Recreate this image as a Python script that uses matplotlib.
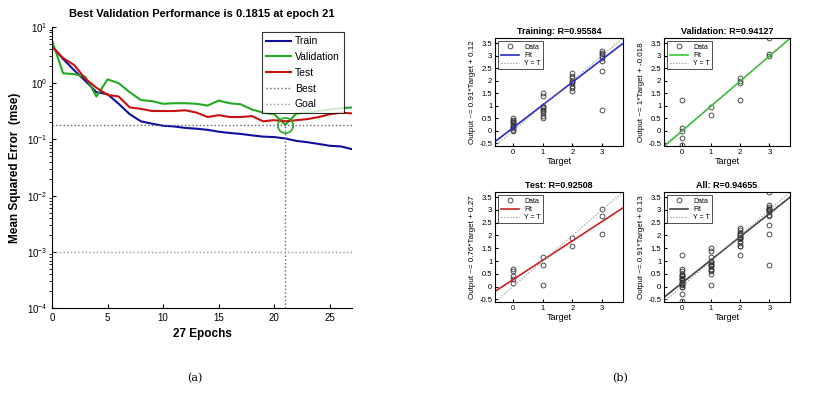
import numpy as np
import matplotlib
matplotlib.use("Agg")
import matplotlib.pyplot as plt

plt.rcParams['font.family'] = ['Liberation Sans', 'DejaVu Sans']

# performance curves (mse per epoch)
epochs = list(range(28))
train_mse = [4.6, 2.7, 1.7, 1.1, 0.69, 0.64, 0.43, 0.28, 0.21, 0.19, 0.175, 0.17, 0.16, 0.155,
             0.148, 0.137, 0.13, 0.125, 0.118, 0.112, 0.11, 0.104, 0.094, 0.089, 0.083, 0.077,
             0.075, 0.067]
val_mse = [5.8, 1.5, 1.45, 1.3, 0.58, 1.17, 1.0, 0.69, 0.5, 0.48, 0.43, 0.44, 0.44, 0.43,
           0.4, 0.49, 0.44, 0.42, 0.34, 0.30, 0.28, 0.1815, 0.29, 0.3, 0.32, 0.34, 0.36, 0.37]
test_mse = [4.4, 2.8, 2.1, 1.2, 0.83, 0.62, 0.58, 0.37, 0.35, 0.32, 0.32, 0.32, 0.33, 0.3,
            0.25, 0.27, 0.25, 0.25, 0.26, 0.21, 0.22, 0.21, 0.22, 0.23, 0.25, 0.28, 0.3, 0.29]
best_epoch = 21
best_perf = 0.1815
goal = 1e-3

# regression panels: targets / outputs
train_t = [0]*11 + [1]*10 + [2]*9 + [3]*8
train_y = [0.0, 0.05, 0.1, 0.15, 0.2, 0.25, 0.3, 0.35, 0.4, 0.45, 0.5,
           0.5, 0.6, 0.7, 0.8, 0.85, 0.9, 0.95, 1.0, 1.4, 1.5,
           1.6, 1.7, 1.8, 1.9, 1.95, 2.0, 2.1, 2.2, 2.3,
           0.85, 2.4, 2.8, 2.9, 3.0, 3.05, 3.1, 3.2]
val_t = [0, 0, 0, 0, 0, 1, 1, 2, 2, 2, 2, 3, 3, 3]
val_y = [-0.55, -0.3, 0.0, 0.1, 1.25, 0.95, 0.65, 2.1, 2.0, 1.9, 1.25, 3.7, 3.05, 3.0]
test_t = [0, 0, 0, 0, 0, 1, 1, 1, 2, 2, 3, 3, 3]
test_y = [0.15, 0.3, 0.4, 0.6, 0.7, 0.05, 0.85, 1.15, 1.6, 1.9, 2.05, 2.75, 3.05]
all_t = train_t + val_t + test_t
all_y = train_y + val_y + test_y

titles = ["Training: R=0.95584", "Validation: R=0.94127", "Test: R=0.92508", "All: R=0.94655"]
ylabels = ["Output ~= 0.91*Target + 0.12", "Output ~= 1*Target + -0.018",
           "Output ~= 0.76*Target + 0.27", "Output ~= 0.91*Target + 0.13"]
slopes = [0.91, 1.0, 0.76, 0.91]
intercepts = [0.12, -0.018, 0.27, 0.13]
fit_colors = ["#2b2bcc", "#33cc33", "#cc2222", "#444444"]

W, H = 820, 395
fig = plt.figure(figsize=(W / 100, H / 100), dpi=100)


def box(x0, y0, x1, y1):
    return [x0 / W, 1 - y1 / H, (x1 - x0) / W, (y1 - y0) / H]


# (a) performance plot
ax = fig.add_axes(box(52, 27, 352, 308))
ax.semilogy(epochs, train_mse, color="#1010a0", lw=1.5, label="Train")
ax.semilogy(epochs, val_mse, color="#22aa22", lw=1.5, label="Validation")
ax.semilogy(epochs, test_mse, color="#cc1111", lw=1.5, label="Test")
ax.plot([0, 27], [best_perf, best_perf], ls=":", color="#666666", lw=1, label="Best")
ax.plot([best_epoch, best_epoch], [1e-4, best_perf], ls=":", color="#666666", lw=1)
ax.plot([0, 27], [goal, goal], ls=":", color="#999999", lw=1, label="Goal")
ax.plot(best_epoch, best_perf, "o", mfc="none", mec="#22aa22", ms=11, mew=1.2)
ax.set_xlim(0, 27)
ax.set_ylim(1e-4, 10)
ax.set_xticks([0, 5, 10, 15, 20, 25])
ax.spines['top'].set_visible(False)
ax.spines['right'].set_visible(False)
ax.tick_params(labelsize=7, direction="in", length=3)
ax.set_title("Best Validation Performance is 0.1815 at epoch 21", fontsize=8,
             fontweight="bold", pad=7)
ax.set_xlabel("27 Epochs", fontsize=8.5, fontweight="bold", labelpad=4)
ax.set_ylabel("Mean Squared Error  (mse)", fontsize=8.5, fontweight="bold", labelpad=4)
leg = ax.legend(loc="upper right", bbox_to_anchor=(0.99, 1.0), fontsize=7.5, frameon=True,
                fancybox=False, edgecolor="black", handlelength=2.4, borderpad=0.4,
                labelspacing=0.55, handletextpad=0.4)
leg.get_frame().set_linewidth(0.8)

# (b) regression plots
boxes = [box(495, 38, 623, 146), box(664, 38, 790, 146),
         box(495, 192, 623, 302), box(664, 192, 790, 302)]
data = [(train_t, train_y), (val_t, val_y), (test_t, test_y), (all_t, all_y)]
xs = np.array([-0.6, 3.7])
for i in range(4):
    a = fig.add_axes(boxes[i])
    t, y = data[i]
    a.plot(t, y, "o", mfc="none", mec="#333333", ms=3.5, mew=0.6, label="Data")
    a.plot(xs, slopes[i] * xs + intercepts[i], color=fit_colors[i], lw=1.2, label="Fit")
    a.plot(xs, xs, ls=":", color="#888888", lw=0.8, label="Y = T")
    a.set_xlim(-0.6, 3.7)
    a.set_ylim(-0.6, 3.7)
    a.set_xticks([0, 1, 2, 3])
    a.set_yticks([-0.5, 0, 0.5, 1, 1.5, 2, 2.5, 3, 3.5])
    a.set_yticklabels(["-0.5", "0", "0.5", "1", "1.5", "2", "2.5", "3", "3.5"])
    a.tick_params(labelsize=5.5, direction="in", length=2, pad=2)
    a.set_title(titles[i], fontsize=6.5, fontweight="bold", pad=3)
    a.set_xlabel("Target", fontsize=6.5, labelpad=1)
    a.set_ylabel(ylabels[i], fontsize=5.8, labelpad=2)
    lg = a.legend(loc="upper left", fontsize=5, frameon=True, fancybox=False,
                  edgecolor="black", handlelength=2.6, borderpad=0.3, labelspacing=0.2)
    lg.get_frame().set_linewidth(0.6)

fig.text(195 / W, 1 - 378 / H, "(a)", fontsize=8, ha="center", va="center", family="DejaVu Serif")
fig.text(620 / W, 1 - 378 / H, "(b)", fontsize=8, ha="center", va="center", family="DejaVu Serif")

fig.savefig("out.png", dpi=100)
